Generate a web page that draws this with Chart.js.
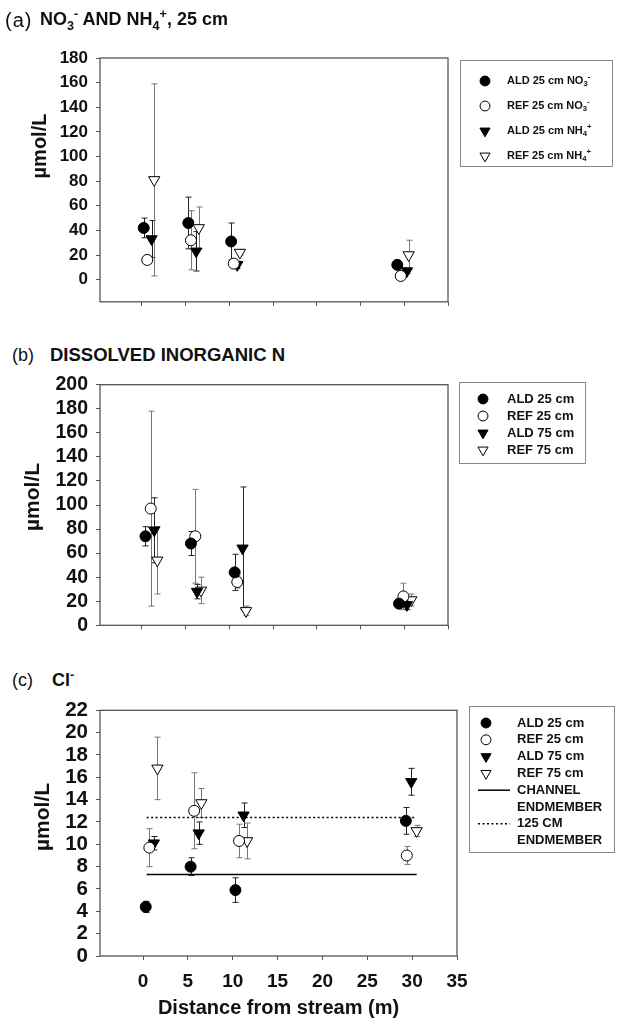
<!DOCTYPE html>
<html>
<head>
<meta charset="utf-8">
<script src="https://cdn.jsdelivr.net/npm/chart.js@4"></script>
<style>
  body { margin: 0; background: #fff; width: 619px; height: 1023px; position: relative; overflow: hidden;
         font-family: "Liberation Sans", Arial, sans-serif; color: #111; }
  canvas { position: absolute; left: 0; }
  .ttl { position: absolute; font-size: 18px; line-height: 1; white-space: nowrap; z-index: 2; }
  .ttl b { position: absolute; top: 0; font-weight: bold; }
  sub, sup { font-size: 0.7em; line-height: 0; }
</style>
</head>
<body>
<div class="ttl" style="left:5px;top:10px;font-size:20px;letter-spacing:1px">(a)<b style="left:35px;font-size:18px;letter-spacing:0">NO<sub>3</sub><sup>-</sup> AND NH<sub>4</sub><sup>+</sup>, 25 cm</b></div>
<div class="ttl" style="left:12px;top:346px">(b)<b style="left:38px;font-size:18.5px">DISSOLVED INORGANIC N</b></div>
<div class="ttl" style="left:12px;top:671px">(c)<b style="left:40px">Cl<sup>-</sup></b></div>

<canvas id="ca" width="619" height="290" style="top:30px"></canvas>
<canvas id="cb" width="619" height="280" style="top:365px"></canvas>
<canvas id="cc" width="619" height="333" style="top:690px"></canvas>

<script>
const FONT = '"Liberation Sans", Arial, sans-serif';

// x axis (distance from stream, m)
const xTickVals = [0, 5, 10, 15, 20, 25, 30, 35];

// (a) NO3- and NH4+, 25 cm
const aTickVals = [0, 20, 40, 60, 80, 100, 120, 140, 160, 180];
const aAldNo3X = [0.2, 5.3, 10.2, 29.2], aAldNo3Y = [42, 46, 31, 12], aAldNo3Err = [8, 21, 15, 3];
const aRefNo3X = [0.6, 5.6, 10.5, 29.6], aRefNo3Y = [16, 32, 13, 3],  aRefNo3Err = [3, 24, 3, 2];
const aAldNh4X = [1.1, 6.2, 10.9, 30.3], aAldNh4Y = [33, 23, 12, 7],  aAldNh4Err = [15, 16, 3, 2];
const aRefNh4X = [1.4, 6.5, 11.2, 30.5], aRefNh4Y = [81, 42, 22, 20], aRefNh4Err = [78, 17, 2, 12];

// (b) dissolved inorganic N
const bTickVals = [0, 20, 40, 60, 80, 100, 120, 140, 160, 180, 200];
const bAld25X = [0.4, 5.6, 10.6, 29.4], bAld25Y = [74, 68, 44, 18], bAld25Err = [8, 10, 15, 3];
const bRef25X = [1.0, 6.1, 10.9, 29.9], bRef25Y = [97, 74, 36, 24], bRef25Err = [81, 39, 5, 11];
const bAld75X = [1.4, 6.3, 11.5, 30.3], bAld75Y = [79, 28, 64, 17], bAld75Err = [27, 6, 51, 4];
const bRef75X = [1.75, 6.75, 11.9, 30.8], bRef75Y = [54, 29, 12, 21], bRef75Err = [28, 11, 4, 5];

// (c) Cl-
const cTickVals = [0, 2, 4, 6, 8, 10, 12, 14, 16, 18, 20, 22];
const cAld25X = [0.3, 5.3, 10.3, 29.3], cAld25Y = [4.4, 8.0, 5.9, 12.1], cAld25Err = [0.5, 0.8, 1.1, 1.2];
const cRef25X = [0.7, 5.7, 10.7, 29.4], cRef25Y = [9.7, 13.0, 10.3, 9.0], cRef25Err = [1.7, 3.4, 1.5, 0.8];
const cAld75X = [1.2, 6.2, 11.2, 29.9], cAld75Y = [10.1, 11.0, 12.6, 15.6], cAld75Err = [0.6, 1.0, 1.1, 1.2];
const cRef75X = [1.6, 6.5, 11.6, 30.5], cRef75Y = [16.8, 13.7, 10.3, 11.2], cRef75Err = [2.8, 1.3, 1.6, 0.5];
const endX = [0.4, 30.5];
const channelY = 7.3, deepY = 12.4;

function series(label, xs, ys, errs, kind) {
  const filled = kind[0] === 'f', tri = kind[1] === 't';
  return {
    label: label,
    data: xs.map((x, i) => ({ x: x, y: ys[i] })),
    errors: errs,
    errorColor: filled ? '#222' : '#777',
    pointStyle: tri ? 'triangle' : 'circle',
    rotation: tri ? 180 : 0,
    pointRadius: tri ? 6.5 : 5.5,
    backgroundColor: filled ? '#000' : '#fff',
    borderColor: '#000',
    borderWidth: 1,
    showLine: false
  };
}

function hline(label, y, dash) {
  return {
    type: 'line', label: label,
    data: endX.map(x => ({ x: x, y: y })),
    borderColor: '#000', borderWidth: 1.5, borderDash: dash,
    pointRadius: 0, showLine: true, fill: false
  };
}

// sub/superscript text: _3 lowers, ^+ raises the next char
function drawRich(ctx, str, x, y, size) {
  let cx = x;
  for (let i = 0; i < str.length; i++) {
    let ch = str[i], s = size, dy = 0;
    if ((ch === '_' || ch === '^') && i + 1 < str.length) {
      dy = ch === '_' ? size * 0.3 : -size * 0.4;
      s = size * 0.7;
      ch = str[++i];
    }
    ctx.font = 'bold ' + s + 'px ' + FONT;
    ctx.fillText(ch, cx, y + dy);
    cx += ctx.measureText(ch).width;
  }
}

const errorBars = {
  id: 'errorBars',
  beforeDatasetsDraw(chart) {
    const ctx = chart.ctx, xs = chart.scales.x, ys = chart.scales.y;
    ctx.save();
    chart.data.datasets.forEach(ds => {
      if (!ds.errors) return;
      ctx.strokeStyle = ds.errorColor;
      ctx.lineWidth = 1;
      ds.data.forEach((p, i) => {
        const e = ds.errors[i];
        const px = Math.round(xs.getPixelForValue(p.x)) + 0.5;
        const y1 = ys.getPixelForValue(p.y + e), y2 = ys.getPixelForValue(p.y - e);
        ctx.beginPath();
        ctx.moveTo(px, y1); ctx.lineTo(px, y2);
        ctx.moveTo(px - 3, y1); ctx.lineTo(px + 3, y1);
        ctx.moveTo(px - 3, y2); ctx.lineTo(px + 3, y2);
        ctx.stroke();
      });
    });
    ctx.restore();
  }
};

const frame = {
  id: 'frame',
  beforeDatasetsDraw(chart) {
    const a = chart.chartArea, ctx = chart.ctx;
    ctx.save();
    ctx.strokeStyle = '#555';
    ctx.lineWidth = 1.3;
    ctx.strokeRect(a.left, a.top, a.right - a.left, a.bottom - a.top);
    ctx.restore();
  }
};

const yTitle = {
  id: 'yTitle',
  afterDraw(chart, args, o) {
    const ctx = chart.ctx;
    ctx.save();
    ctx.translate(o.x, o.y);
    ctx.rotate(-Math.PI / 2);
    ctx.font = 'bold ' + o.size + 'px ' + FONT;
    ctx.fillStyle = '#111';
    ctx.textAlign = 'center';
    ctx.textBaseline = 'middle';
    ctx.fillText(o.text, 0, 0);
    ctx.restore();
  }
};

const boxLegend = {
  id: 'boxLegend',
  afterDraw(chart, args, o) {
    const ctx = chart.ctx, b = o.box;
    ctx.save();
    ctx.strokeStyle = '#888';
    ctx.lineWidth = 1;
    ctx.strokeRect(b[0] + 0.5, b[1] + 0.5, b[2] - b[0], b[3] - b[1]);
    ctx.textBaseline = 'middle';
    ctx.textAlign = 'left';
    let y = o.rowY;
    chart.data.datasets.forEach(ds => {
      const lines = ds.label.split('\n');
      ctx.fillStyle = ds.backgroundColor || '#000';
      ctx.strokeStyle = ds.borderColor;
      if (ds.showLine) {
        ctx.lineWidth = ds.borderWidth;
        ctx.setLineDash(ds.borderDash || []);
        ctx.beginPath();
        ctx.moveTo(o.lineX[0], y); ctx.lineTo(o.lineX[1], y);
        ctx.stroke();
        ctx.setLineDash([]);
      } else {
        ctx.lineWidth = 1;
        Chart.helpers.drawPoint(ctx, {
          pointStyle: ds.pointStyle, rotation: ds.rotation,
          radius: ds.pointRadius * 0.9, borderWidth: 1
        }, o.markX, y);
      }
      ctx.fillStyle = '#111';
      lines.forEach((ln, k) => drawRich(ctx, ln, o.textX, y + k * o.step, o.size));
      y += lines.length * o.step;
    });
    ctx.restore();
  }
};

function makePanel(id, top, datasets, p) {
  const tickFont = { family: FONT, weight: 'bold', size: p.tickSize };
  return new Chart(document.getElementById(id), {
    type: 'scatter',
    data: { datasets: datasets },
    options: {
      responsive: false,
      animation: false,
      devicePixelRatio: 1,
      layout: { padding: { top: p.padTop, right: p.padRight, left: 0, bottom: 0 } },
      plugins: {
        legend: { display: false },
        tooltip: { enabled: false },
        yTitle: { text: 'µmol/L', x: p.yTitle[0], y: p.yTitle[1] - top, size: p.yTitleSize },
        boxLegend: {
          box: [p.legBox[0], p.legBox[1] - top, p.legBox[2], p.legBox[3] - top],
          rowY: p.legRowY - top, step: p.legStep, markX: p.legMarkX, textX: p.legTextX,
          lineX: [p.legMarkX - 8, p.legMarkX + 24], size: p.legSize
        }
      },
      scales: {
        x: {
          type: 'linear', min: -4.8, max: 35,
          afterBuildTicks: s => { s.ticks = xTickVals.map(v => ({ value: v })); },
          afterFit: s => { s.height = p.xh; },
          grid: { drawOnChartArea: false, color: '#555', tickLength: 4 },
          border: { display: false },
          ticks: { display: !!p.xLabels, font: { family: FONT, weight: 'bold', size: 19 }, color: '#111',
                   padding: 10, maxRotation: 0, autoSkip: false },
          title: { display: !!p.xLabels, text: 'Distance from stream (m)', color: '#111',
                   font: { family: FONT, weight: 'bold', size: 20 }, padding: { top: 0, bottom: 3 } }
        },
        y: {
          type: 'linear', min: p.yMin, max: p.yMax,
          afterBuildTicks: s => { s.ticks = p.yTicks.map(v => ({ value: v })); },
          afterFit: s => { s.width = 100; },
          grid: { drawOnChartArea: false, color: '#555', tickLength: 4 },
          border: { display: false },
          ticks: { font: tickFont, color: '#111', padding: 8, autoSkip: false }
        }
      }
    },
    plugins: [frame, errorBars, yTitle, boxLegend]
  });
}

makePanel('ca', 30, [
  series('ALD 25 cm NO_3^-', aAldNo3X, aAldNo3Y, aAldNo3Err, 'fc'),
  series('REF 25 cm NO_3^-', aRefNo3X, aRefNo3Y, aRefNo3Err, 'oc'),
  series('ALD 25 cm NH_4^+', aAldNh4X, aAldNh4Y, aAldNh4Err, 'ft'),
  series('REF 25 cm NH_4^+', aRefNh4X, aRefNh4Y, aRefNh4Err, 'ot')
], {
  padTop: 28, padRight: 171, xh: 17, yMin: -18, yMax: 180, yTicks: aTickVals, tickSize: 17,
  yTitle: [40, 146], yTitleSize: 20,
  legBox: [460, 60, 612, 166], legRowY: 81, legStep: 25, legMarkX: 485, legTextX: 507, legSize: 11
});

makePanel('cb', 365, [
  series('ALD 25 cm', bAld25X, bAld25Y, bAld25Err, 'fc'),
  series('REF 25 cm', bRef25X, bRef25Y, bRef25Err, 'oc'),
  series('ALD 75 cm', bAld75X, bAld75Y, bAld75Err, 'ft'),
  series('REF 75 cm', bRef75X, bRef75Y, bRef75Err, 'ot')
], {
  padTop: 18, padRight: 171, xh: 17, yMin: 0, yMax: 200, yTicks: bTickVals, tickSize: 19.5,
  yTitle: [33, 497], yTitleSize: 21,
  legBox: [459, 382, 585, 463], legRowY: 399, legStep: 17, legMarkX: 483, legTextX: 507, legSize: 13
});

makePanel('cc', 690, [
  series('ALD 25 cm', cAld25X, cAld25Y, cAld25Err, 'fc'),
  series('REF 25 cm', cRef25X, cRef25Y, cRef25Err, 'oc'),
  series('ALD 75 cm', cAld75X, cAld75Y, cAld75Err, 'ft'),
  series('REF 75 cm', cRef75X, cRef75Y, cRef75Err, 'ot'),
  hline('CHANNEL\nENDMEMBER', channelY, []),
  hline('125 CM\nENDMEMBER', deepY, [2, 2.5])
], {
  padTop: 18, padRight: 162, xh: 67, yMin: 0, yMax: 22, yTicks: cTickVals, tickSize: 20.5, xLabels: true,
  yTitle: [43, 817], yTitleSize: 21,
  legBox: [469, 706, 614, 852], legRowY: 723, legStep: 16.8, legMarkX: 486, legTextX: 517, legSize: 13
});
</script>
</body>
</html>
